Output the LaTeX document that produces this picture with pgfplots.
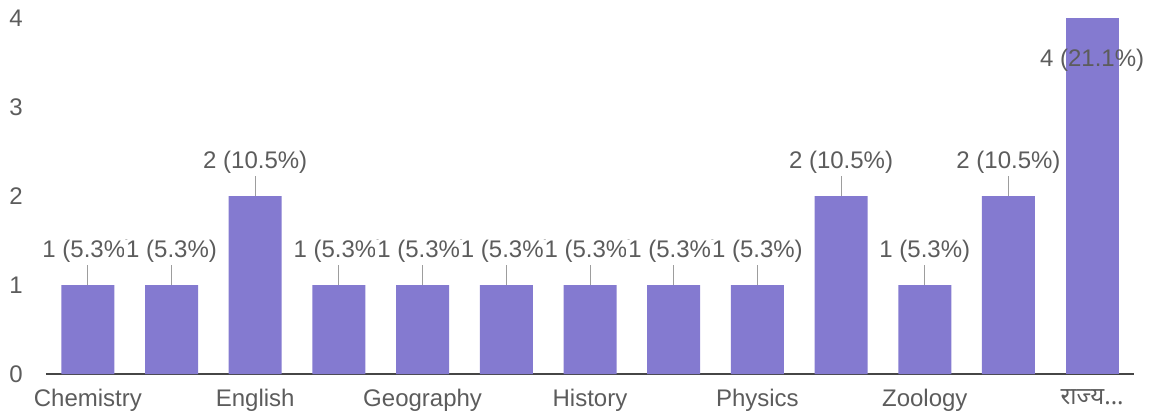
\documentclass[border=0pt]{standalone}
\usepackage{pgfplots}
\pgfplotsset{compat=1.18}
\usepackage{fontspec}
\setmainfont{Liberation Sans}
\newfontfamily\devfont[Script=Devanagari]{Noto Sans}
\newcommand\tdots{...}
\definecolor{barcol}{RGB}{132,122,208}
\definecolor{txtgray}{RGB}{92,92,92}
\definecolor{axgray}{RGB}{70,70,70}
\begin{document}
\begin{tikzpicture}
\begin{axis}[
  name=ax,
  scale only axis,
  width=816pt, height=267pt,
  xmin=-0.5, xmax=12.5, ymin=0, ymax=4,
  axis x line*=bottom,
  axis y line*=left,
  x axis line style={axgray, line width=1.6pt, -},
  y axis line style={draw=none},
  xtick={0,2,4,6,8,10,12},
  xticklabels={Chemistry, English, Geography, History, Physics, Zoology, {\devfont राज्य\tdots}},
  ytick={0,1,2,3,4},
  major tick length=0pt,
  tick style={draw=none},
  /pgf/number format/assume math mode=true,
  tick label style={font=\fontsize{18}{21}\selectfont, text=txtgray},
  xticklabel style={anchor=north, yshift=-8pt},
  yticklabel style={anchor=east, xshift=-14pt},
  clip=false,
  ybar, bar width=39.75pt, bar shift=0pt,
]
\addplot[fill=barcol, draw=none,
  point meta=explicit symbolic,
  nodes near coords,
  every node near coord/.append style={anchor=south, yshift=17pt, inner ysep=0pt, inner xsep=1.5pt, fill=white, text=txtgray, font=\fontsize{18}{21}\selectfont}]
coordinates {
 (0,1) [1 (5.3\%)]
 (1,1) [1 (5.3\%)]
 (2,2) [2 (10.5\%)]
 (3,1) [1 (5.3\%)]
 (4,1) [1 (5.3\%)]
 (5,1) [1 (5.3\%)]
 (6,1) [1 (5.3\%)]
 (7,1) [1 (5.3\%)]
 (8,1) [1 (5.3\%)]
 (9,2) [2 (10.5\%)]
 (10,1) [1 (5.3\%)]
 (11,2) [2 (10.5\%)]
};
\addplot[fill=barcol, draw=none,
  point meta=explicit symbolic,
  nodes near coords,
  every node near coord/.append style={anchor=center, yshift=-32pt, inner sep=0pt, text=txtgray, font=\fontsize{18}{21}\selectfont}]
coordinates {
 (12,4) [4 (21.1\%)]
};
\addplot[draw=none, mark=none, forget plot,
  error bars/.cd, y dir=plus, y explicit, error mark=none,
  error bar style={color=txtgray!60, line width=0.7pt}]
coordinates {
 (0,1) +- (0,0.22)
 (1,1) +- (0,0.22)
 (2,2) +- (0,0.22)
 (3,1) +- (0,0.22)
 (4,1) +- (0,0.22)
 (5,1) +- (0,0.22)
 (6,1) +- (0,0.22)
 (7,1) +- (0,0.22)
 (8,1) +- (0,0.22)
 (9,2) +- (0,0.22)
 (10,1) +- (0,0.22)
 (11,2) +- (0,0.22)
};
\end{axis}
\pgfresetboundingbox
\path (ax.south west) ++(-34.5pt,-33.75pt) rectangle ++(864pt,314.25pt);
\end{tikzpicture}
\end{document}
